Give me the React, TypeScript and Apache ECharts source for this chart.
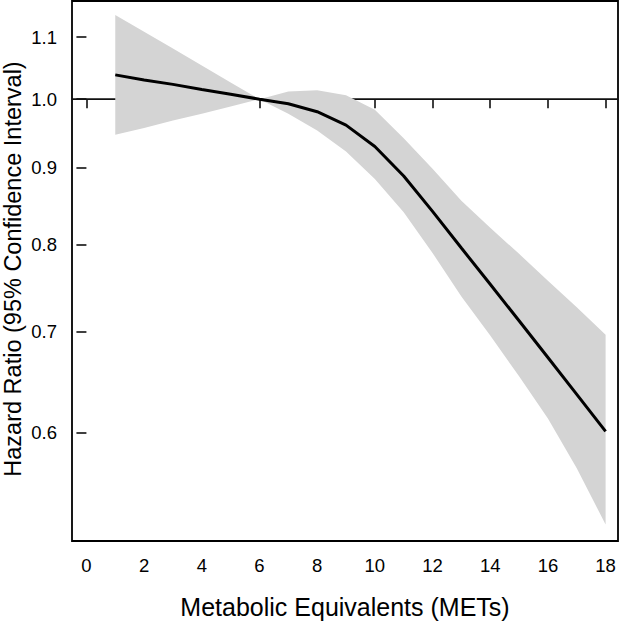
import React, { useEffect, useRef } from "react";
import * as echarts from "echarts";

const mets = [1, 2, 3, 4, 5, 6, 7, 8, 9, 10, 11, 12, 13, 14, 15, 16, 17, 18];
const hazardRatio = [1.038, 1.03, 1.023, 1.015, 1.0075, 1.0, 0.993, 0.981, 0.961, 0.93, 0.889, 0.842, 0.796, 0.753, 0.712, 0.673, 0.636, 0.601];
const upperCI = [1.138, 1.109, 1.081, 1.053, 1.026, 1.0, 1.012, 1.014, 1.006, 0.984, 0.942, 0.899, 0.856, 0.821, 0.789, 0.757, 0.727, 0.697];
const lowerCI = [0.947, 0.957, 0.968, 0.978, 0.989, 1.0, 0.978, 0.953, 0.923, 0.885, 0.841, 0.79, 0.739, 0.696, 0.654, 0.613, 0.568, 0.521];
const xTicks = [0, 2, 4, 6, 8, 10, 12, 14, 16, 18];
const yTicks = [0.6, 0.7, 0.8, 0.9, 1.0, 1.1];
const referenceHR = 1.0;
const xTitle = "Metabolic Equivalents (METs)";
const yTitle = "Hazard Ratio (95% Confidence Interval)";

const FONT = "Liberation Sans, Arial, Helvetica, sans-serif";

export default function App() {
  const ref = useRef<HTMLDivElement>(null);
  useEffect(() => {
    if (!ref.current) return;
    const chart = echarts.init(ref.current, null, { renderer: "svg" });
    const xMin = -0.5;
    const xMax = 18.43;
    const lineData = mets.map((m, i) => [m, Math.log(hazardRatio[i])]);
    chart.setOption({
      animation: false,
      textStyle: { fontFamily: FONT },
      grid: {
        left: 72,
        right: 4,
        top: 1,
        bottom: 81,
        show: true,
        borderColor: "#000",
        borderWidth: 1.8,
        backgroundColor: "transparent",
        outerBoundsMode: "none",
      },
      graphic: [
        {
          type: "text",
          x: 12.5,
          y: 269,
          rotation: Math.PI / 2,
          style: {
            text: yTitle,
            fontFamily: FONT,
            fontSize: 23.5,
            lineHeight: 24,
            fill: "#000",
            textAlign: "center",
            textVerticalAlign: "middle",
          },
        },
      ],
      xAxis: {
        type: "value",
        min: xMin,
        max: xMax,
        name: xTitle,
        nameLocation: "middle",
        nameGap: 53,
        nameTextStyle: { fontFamily: FONT, fontSize: 25, color: "#000" },
        axisLine: { show: false },
        axisTick: {
          show: true,
          length: 9,
          customValues: xTicks,
          lineStyle: { color: "#000", width: 1.5 },
        },
        axisLabel: {
          customValues: xTicks,
          margin: 15,
          fontFamily: FONT,
          fontSize: 18.5,
          color: "#000",
        },
        splitLine: { show: false },
      },
      yAxis: {
        type: "value",
        min: Math.log(0.508),
        max: Math.log(1.1625),
        axisLine: { show: false },
        axisTick: {
          show: true,
          length: 10,
          customValues: yTicks.map((v) => Math.log(v)),
          lineStyle: { color: "#000", width: 1.5 },
        },
        axisLabel: {
          customValues: yTicks.map((v) => Math.log(v)),
          margin: 15,
          fontFamily: FONT,
          fontSize: 18.5,
          color: "#000",
          formatter: (v: number) => Math.exp(v).toFixed(1),
        },
        splitLine: { show: false },
      },
      series: [
        {
          type: "line",
          z: 1,
          data: [
            [xMin, Math.log(referenceHR)],
            [xMax, Math.log(referenceHR)],
          ],
          symbol: "none",
          lineStyle: { color: "#111", width: 1.8 },
          silent: true,
        },
        {
          type: "custom",
          z: 2,
          data: [[mets[0], Math.log(hazardRatio[0])]],
          renderItem: (params: any, api: any) => {
            const pts: number[][] = [];
            for (let i = 0; i < mets.length; i++) {
              pts.push(api.coord([mets[i], Math.log(upperCI[i])]));
            }
            for (let i = mets.length - 1; i >= 0; i--) {
              pts.push(api.coord([mets[i], Math.log(lowerCI[i])]));
            }
            return {
              type: "polygon",
              shape: { points: pts },
              style: { fill: "#d4d4d4", stroke: "none" },
            };
          },
          silent: true,
        },
        {
          type: "line",
          z: 3,
          data: lineData,
          symbol: "none",
          lineStyle: { color: "#000", width: 3 },
          silent: true,
        },
      ],
    });
    return () => chart.dispose();
  }, []);
  return (
    <div
      ref={ref}
      style={{ position: "absolute", left: 0, top: 0, width: 622, height: 622 }}
    />
  );
}
